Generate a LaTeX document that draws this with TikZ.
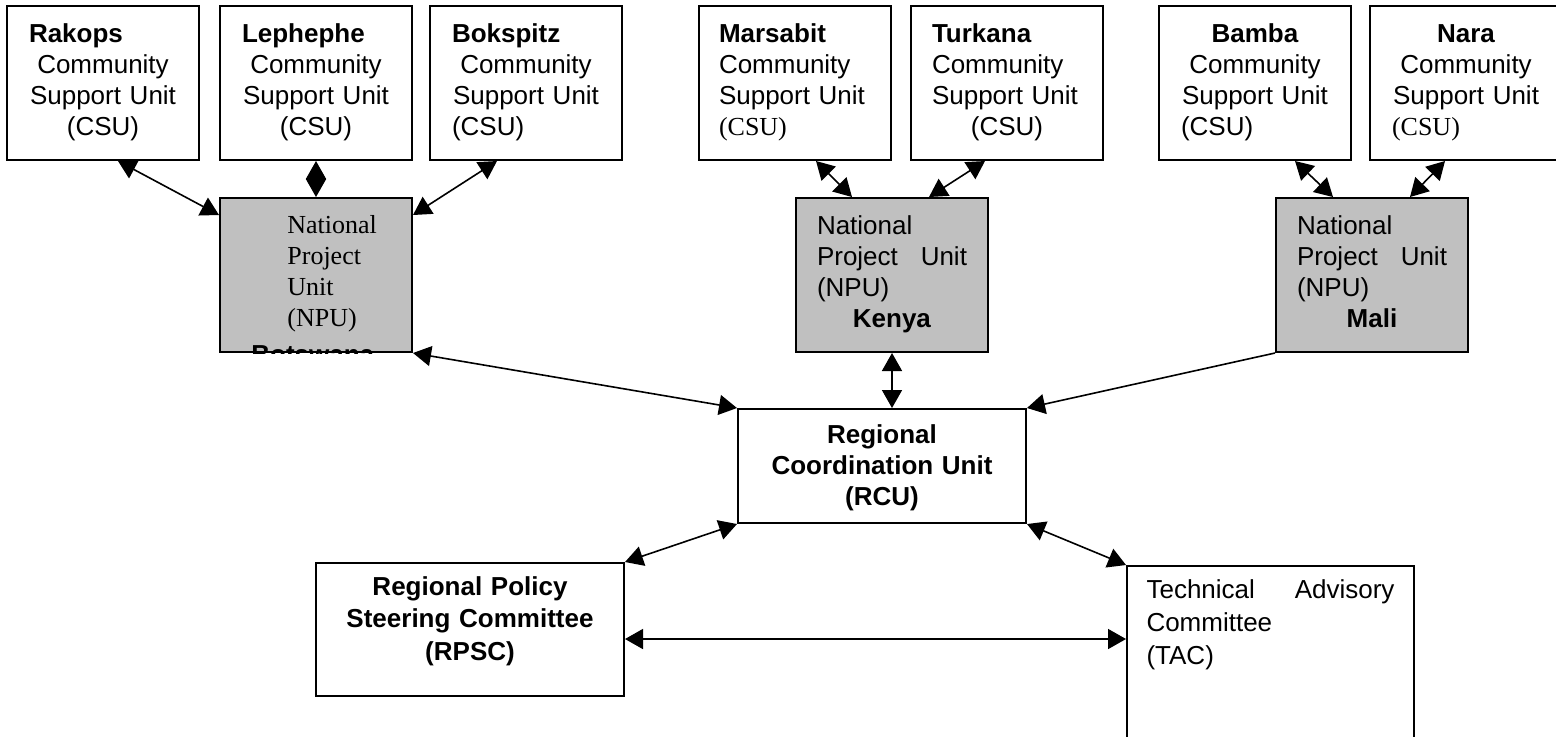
\documentclass[tikz,border=0pt]{standalone}
\usepackage{fontspec}
\setmainfont{Liberation Sans}
\newfontfamily\timesfont{Liberation Serif}
\usepackage{tikz}
\usetikzlibrary{positioning, arrows.meta}

\definecolor{npugray}{RGB}{192,192,192}
\newcommand{\unitfont}{\fontsize{13}{15.5}\selectfont}
\newcommand{\lft}[1]{\makebox[\linewidth][l]{#1}}
\newcommand{\ctr}[1]{\makebox[\linewidth][c]{#1}}
\newcommand{\jst}[1]{\makebox[\linewidth][s]{#1}}

\begin{document}
\begin{tikzpicture}[
  x=1pt, y=-1pt,
  unitbox/.style={draw, line width=1pt, inner sep=0pt, minimum width=96pt,
                  text height=18pt, text depth=59pt, font=\unitfont},
  csu/.style={unitbox, text width=74pt, align=center},
  npu/.style={unitbox, fill=npugray, text width=75pt, align=left},
  board/.style={draw, line width=1pt, inner sep=0pt},
  edge/.style={{Triangle[length=9pt, width=10pt]}-{Triangle[length=9pt, width=10pt]}, line width=0.8pt},
  oneway/.style={-{Triangle[length=9pt, width=10pt]}, line width=0.8pt}
]
  \useasboundingbox (0,0) rectangle (778,368);

  % community support units
  \node[csu, anchor=north west] (rakops) at (3,2.5) {\lft{\textbf{Rakops}}\\Community\\Support Unit\\(CSU)};
  \node[csu, right=9.5pt of rakops] (lephephe) {\lft{\textbf{Lephephe}}\\Community\\Support Unit\\(CSU)};
  \node[csu, right=8pt of lephephe] (bokspitz) {\lft{\textbf{Bokspitz}}\\Community\\Support Unit\\\lft{(CSU)}};
  \node[csu, text width=76pt, align=left, right=37.5pt of bokspitz] (marsabit) {\textbf{Marsabit}\\Community\\Support Unit\\{\timesfont (CSU)}};
  \node[csu, text width=75pt, right=9pt of marsabit] (turkana) {\lft{\textbf{Turkana}}\\\lft{Community}\\\lft{Support Unit}\\(CSU)};
  \node[csu, right=27pt of turkana] (bamba) {\textbf{Bamba}\\Community\\Support Unit\\\lft{(CSU)}};
  \node[csu, right=8.5pt of bamba] (nara) {\textbf{Nara}\\Community\\Support Unit\\\lft{\timesfont (CSU)}};

  % national project units
  \node[npu, below=18pt of lephephe] (npuBots) {};
  \begin{scope}
    \clip (npuBots.north west) rectangle (npuBots.south east);
    \node[anchor=north west, inner sep=0pt, text width=60pt, align=left, font=\unitfont\timesfont]
      (npuBotsText) at ([xshift=34pt, yshift=-9pt]npuBots.north west)
      {National\\Project\\Unit\\(NPU)\\[3pt]\hspace*{-18pt}{\normalfont\bfseries Botswana}};
  \end{scope}
  \node[npu, below=18pt of marsabit.south east] (npuKenya) {National\\\jst{Project\hfill Unit}\\(NPU)\\\ctr{\textbf{Kenya}}};
  \node[npu, below=18pt of nara.south west, xshift=1.5pt] (npuMali) {National\\\jst{Project\hfill Unit}\\(NPU)\\\ctr{\textbf{Mali}}};

  % regional bodies
  \node[board, minimum width=144pt, text width=130pt, align=center, text height=17pt, text depth=40pt,
        font=\unitfont\bfseries] (rcu) at (441,233) {Regional\\Coordination Unit\\(RCU)};
  \node[board, minimum width=154pt, text width=140pt, align=center, text height=16pt, text depth=50.5pt,
        font={\fontsize{13}{16.25}\selectfont\bfseries}] (rpsc) at (235,314.75) {Regional Policy\\Steering Committee\\(RPSC)};
  \node[board, anchor=north west, minimum width=143.5pt, text width=124pt, align=left, text height=16pt, text depth=84pt,
        font={\fontsize{13}{16.5}\selectfont}] (tac) at (563,282.5) {\jst{Technical\hfill Advisory}\\Committee\\(TAC)};

  % links
  \draw[edge] ([xshift=56pt]rakops.south west) -- ([yshift=-9pt]npuBots.north west);
  \draw[edge] (lephephe) -- (npuBots);
  \draw[edge] ([xshift=34pt]bokspitz.south west) -- ([yshift=-9pt]npuBots.north east);
  \draw[edge] ([xshift=59pt]marsabit.south west) -- ([xshift=28.5pt]npuKenya.north west);
  \draw[edge] ([xshift=37.5pt]turkana.south west) -- ([xshift=67pt]npuKenya.north west);
  \draw[edge] ([xshift=68.5pt]bamba.south west) -- ([xshift=29pt]npuMali.north west);
  \draw[edge] ([xshift=38pt]nara.south west) -- ([xshift=67.5pt]npuMali.north west);
  \draw[edge] (npuBots.south east) -- (rcu.north west);
  \draw[edge] (npuKenya.south) -- (npuKenya.south |- rcu.north);
  \draw[oneway] (npuMali.south west) -- (rcu.north east);
  \draw[edge] (rcu.south west) -- (rpsc.north east);
  \draw[edge] (rcu.south east) -- (tac.north west);
  \coordinate (rpscMid) at ([yshift=-4.75pt]rpsc.east);
  \draw[edge] (rpscMid) -- (rpscMid -| tac.west);
\end{tikzpicture}
\end{document}
